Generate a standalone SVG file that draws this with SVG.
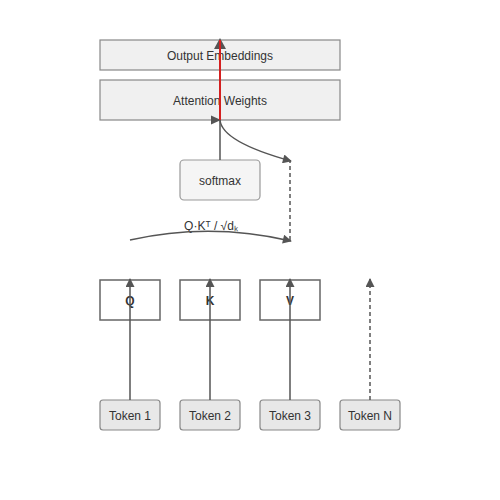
<svg xmlns="http://www.w3.org/2000/svg" width="500" height="500" viewBox="0 0 500 500">
<style>
text{font-family:"Liberation Sans",Arial,sans-serif;font-size:12px;fill:#333;text-anchor:middle;dominant-baseline:central}
.big{fill:#f0f0f0;stroke:#888;stroke-width:1.2}
.qkv{fill:#fff;stroke:#666;stroke-width:1.5}
.tok{fill:#e8e8e8;stroke:#888;stroke-width:1.2}
.ln{fill:none;stroke:#555;stroke-width:1.5}
.dash{stroke-dasharray:4,3}
.b{font-weight:bold}
</style>
<defs>
<marker id="ah" viewBox="0 0 10 10" refX="9" refY="5" markerWidth="10" markerHeight="9" markerUnits="userSpaceOnUse" orient="auto">
<path d="M0,0L10,5L0,10z" fill="#555"/>
</marker>
</defs>
<g id="output-embeddings"><rect class="big" x="100" y="40" width="240" height="30"/><text x="220" y="56">Output Embeddings</text></g>
<g id="attention-weights"><rect class="big" x="100" y="80" width="240" height="40"/><text x="220" y="101">Attention Weights</text></g>
<g id="softmax"><rect x="180" y="160" width="80" height="40" rx="4" fill="#f5f5f5" stroke="#999" stroke-width="1.2"/><text x="220" y="181">softmax</text></g>
<g id="formula"><text x="211" y="226">Q·Kᵀ / √dₖ</text></g>
<g id="q"><rect class="qkv" x="100" y="280" width="60" height="40"/><text class="b" x="130" y="301">Q</text></g>
<g id="k"><rect class="qkv" x="180" y="280" width="60" height="40"/><text class="b" x="210" y="301">K</text></g>
<g id="v"><rect class="qkv" x="260" y="280" width="60" height="40"/><text class="b" x="290" y="301">V</text></g>
<g id="token1"><rect class="tok" x="100" y="400" width="60" height="30" rx="3"/><text x="130" y="416">Token 1</text></g>
<g id="token2"><rect class="tok" x="180" y="400" width="60" height="30" rx="3"/><text x="210" y="416">Token 2</text></g>
<g id="token3"><rect class="tok" x="260" y="400" width="60" height="30" rx="3"/><text x="290" y="416">Token 3</text></g>
<g id="tokenN"><rect class="tok" x="340" y="400" width="60" height="30" rx="3"/><text x="370" y="416">Token N</text></g>
<g id="connectors">
<path class="ln" d="M130,400V279" marker-end="url(#ah)"/>
<path class="ln" d="M210,400V279" marker-end="url(#ah)"/>
<path class="ln" d="M290,400V279" marker-end="url(#ah)"/>
<path class="ln dash" d="M370,400V279" marker-end="url(#ah)"/>
<path class="ln" d="M130,240Q210,222 291,241" marker-end="url(#ah)"/>
<path class="ln dash" d="M290,240V160"/>
<path class="ln" d="M220,120Q222,142 291,161" marker-end="url(#ah)"/>
<path class="ln" d="M220,160V120"/>
<path d="M211,115.5L221,120L211,124.5z" fill="#555"/>
<path d="M214,49L220,38L226,49z" fill="#555"/>
<path d="M220,120V40" fill="none" stroke="#d42020" stroke-width="2"/>
</g>
</svg>
